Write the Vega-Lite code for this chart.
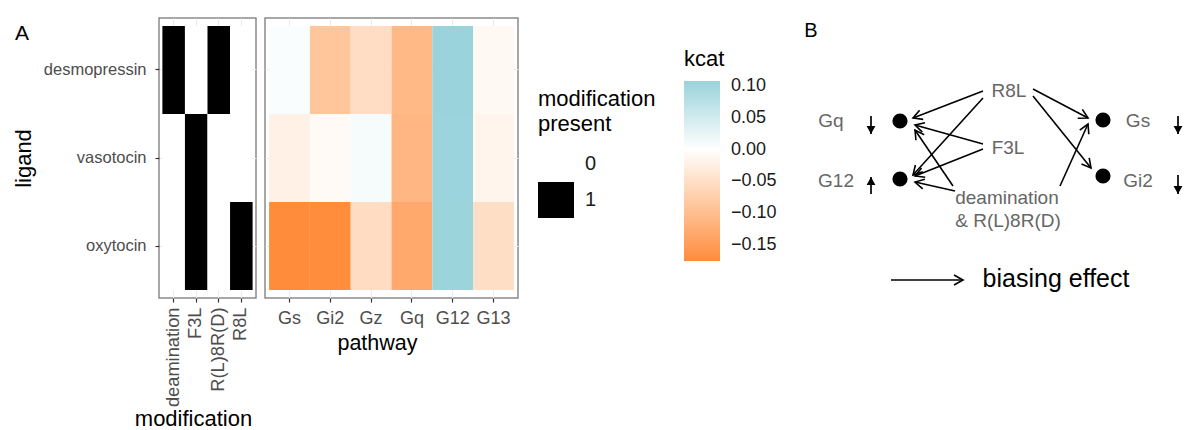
{
  "$schema": "https://vega.github.io/schema/vega-lite/v6.json",
  "background": "white",
  "padding": {"left": 11, "top": 17, "right": 0, "bottom": 0},
  "bounds": "flush",
  "spacing": 9,
  "config": {
    "font": "Liberation Sans",
    "view": {"stroke": "#8A8A8A", "strokeWidth": 1.5},
    "axis": {
      "labelFont": "Liberation Sans",
      "titleFont": "Liberation Sans",
      "labelColor": "#4D4D4D",
      "titleColor": "#000000",
      "titleFontWeight": "normal",
      "tickColor": "#333333",
      "tickSize": 4,
      "tickWidth": 1.2,
      "domain": false,
      "grid": true,
      "gridColor": "#EBEBEB",
      "gridWidth": 1,
      "bandPosition": 0.5,
      "zindex": 0
    },
    "legend": {"titleFont": "Liberation Sans", "labelFont": "Liberation Sans"}
  },
  "datasets": {
    "mods": [
      {"ligand": "desmopressin", "modification": "deamination", "present": 1},
      {"ligand": "desmopressin", "modification": "F3L", "present": 0},
      {"ligand": "desmopressin", "modification": "R(L)8R(D)", "present": 1},
      {"ligand": "desmopressin", "modification": "R8L", "present": 0},
      {"ligand": "vasotocin", "modification": "deamination", "present": 0},
      {"ligand": "vasotocin", "modification": "F3L", "present": 1},
      {"ligand": "vasotocin", "modification": "R(L)8R(D)", "present": 0},
      {"ligand": "vasotocin", "modification": "R8L", "present": 0},
      {"ligand": "oxytocin", "modification": "deamination", "present": 0},
      {"ligand": "oxytocin", "modification": "F3L", "present": 1},
      {"ligand": "oxytocin", "modification": "R(L)8R(D)", "present": 0},
      {"ligand": "oxytocin", "modification": "R8L", "present": 1}
    ],
    "kcat": [
      {"ligand": "desmopressin", "pathway": "Gs", "kcat": 0.006},
      {"ligand": "desmopressin", "pathway": "Gi2", "kcat": -0.088},
      {"ligand": "desmopressin", "pathway": "Gz", "kcat": -0.052},
      {"ligand": "desmopressin", "pathway": "Gq", "kcat": -0.108},
      {"ligand": "desmopressin", "pathway": "G12", "kcat": 0.107},
      {"ligand": "desmopressin", "pathway": "G13", "kcat": -0.01},
      {"ligand": "vasotocin", "pathway": "Gs", "kcat": -0.022},
      {"ligand": "vasotocin", "pathway": "Gi2", "kcat": -0.008},
      {"ligand": "vasotocin", "pathway": "Gz", "kcat": 0.01},
      {"ligand": "vasotocin", "pathway": "Gq", "kcat": -0.112},
      {"ligand": "vasotocin", "pathway": "G12", "kcat": 0.106},
      {"ligand": "vasotocin", "pathway": "G13", "kcat": -0.016},
      {"ligand": "oxytocin", "pathway": "Gs", "kcat": -0.175},
      {"ligand": "oxytocin", "pathway": "Gi2", "kcat": -0.174},
      {"ligand": "oxytocin", "pathway": "Gz", "kcat": -0.054},
      {"ligand": "oxytocin", "pathway": "Gq", "kcat": -0.132},
      {"ligand": "oxytocin", "pathway": "G12", "kcat": 0.105},
      {"ligand": "oxytocin", "pathway": "G13", "kcat": -0.05}
    ],
    "nodes": [
      {"node": "Gq", "x": 37.3, "y": 10.3},
      {"node": "G12", "x": 37.3, "y": 16.1},
      {"node": "Gs", "x": 57.6, "y": 10.2},
      {"node": "Gi2", "x": 57.6, "y": 15.8}
    ],
    "arrows": [
      {"from": "R8L", "to": "Gq", "x1": 45.6, "y1": 7.3, "x2": 38.6, "y2": 10.0},
      {"from": "R8L", "to": "G12", "x1": 45.6, "y1": 8.0, "x2": 38.6, "y2": 15.7},
      {"from": "F3L", "to": "Gq", "x1": 45.6, "y1": 12.6, "x2": 38.8, "y2": 10.7},
      {"from": "F3L", "to": "G12", "x1": 45.6, "y1": 13.1, "x2": 38.8, "y2": 15.8},
      {"from": "deamination", "to": "Gq", "x1": 42.6, "y1": 16.8, "x2": 38.8, "y2": 11.2},
      {"from": "deamination", "to": "G12", "x1": 42.8, "y1": 17.3, "x2": 38.8, "y2": 16.4},
      {"from": "R8L", "to": "Gs", "x1": 50.6, "y1": 7.1, "x2": 56.1, "y2": 10.0},
      {"from": "R8L", "to": "Gi2", "x1": 50.6, "y1": 7.8, "x2": 56.4, "y2": 15.0},
      {"from": "deamination", "to": "Gs", "x1": 53.3, "y1": 16.8, "x2": 56.1, "y2": 10.6},
      {"from": "key", "to": "key", "x1": 36.4, "y1": 26.2, "x2": 43.6, "y2": 26.2}
    ],
    "signs": [
      {"pathway": "Gq", "direction": "down", "x": 34.4, "ytail": 9.8, "yhead": 11.6},
      {"pathway": "G12", "direction": "up", "x": 34.4, "ytail": 17.6, "yhead": 15.9},
      {"pathway": "Gs", "direction": "down", "x": 65.1, "ytail": 9.8, "yhead": 11.6},
      {"pathway": "Gi2", "direction": "down", "x": 65.1, "ytail": 15.7, "yhead": 17.6}
    ],
    "labels": [
      {"kind": "grey", "label": "Gq", "x": 30.4, "y": 10.3},
      {"kind": "grey", "label": "G12", "x": 30.9, "y": 16.3},
      {"kind": "grey", "label": "Gs", "x": 61.1, "y": 10.3},
      {"kind": "grey", "label": "Gi2", "x": 61.1, "y": 16.3},
      {"kind": "grey", "label": "R8L", "x": 48.2, "y": 7.3},
      {"kind": "grey", "label": "F3L", "x": 48.1, "y": 13.0},
      {"kind": "grey", "label": "deamination", "x": 48.0, "y": 18.0},
      {"kind": "grey", "label": "& R(L)8R(D)", "x": 48.1, "y": 20.3},
      {"kind": "panel", "label": "B", "x": 28.4, "y": 1.3},
      {"kind": "key", "label": "biasing effect", "x": 52.9, "y": 26.1}
    ]
  },
  "hconcat": [
    {
      "width": 97,
      "height": 280,
      "title": {"text": "A", "anchor": "start", "frame": "group", "fontSize": 21, "fontWeight": "normal", "color": "#000000", "dx": -144, "dy": 43, "offset": 0, "baseline": "alphabetic"},
      "data": {"name": "mods"},
      "mark": {"type": "rect", "zindex": 1},
      "encoding": {
        "x": {
          "field": "modification", "type": "nominal",
          "sort": ["deamination", "F3L", "R(L)8R(D)", "R8L"],
          "scale": {"paddingOuter": 0.15, "paddingInner": 0},
          "axis": {"title": "modification", "labelAngle": 270, "labelFontSize": 18.3, "labelPadding": 5, "titleFontSize": 22, "titlePadding": 2, "titleX": 34}
        },
        "y": {
          "field": "ligand", "type": "nominal",
          "sort": ["desmopressin", "vasotocin", "oxytocin"],
          "scale": {"paddingOuter": 0.09, "paddingInner": 0},
          "axis": {"title": "ligand", "labelFontSize": 16.5, "labelPadding": 9, "titleFontSize": 22, "titlePadding": 8}
        },
        "fill": {
          "field": "present", "type": "nominal",
          "scale": {"domain": [0, 1], "range": ["#FFFFFF", "#000000"]},
          "legend": {
            "orient": "none", "legendX": 379, "legendY": 71,
            "title": ["modification", "present"], "titleFontSize": 22, "titleLineHeight": 25,
            "titleFontWeight": "normal", "titleColor": "#000000", "titlePadding": 10,
            "symbolType": "square", "symbolSize": 1296, "symbolStrokeWidth": 0,
            "labelFontSize": 20, "labelColor": "#1A1A1A", "labelOffset": 11, "rowPadding": 0
          }
        }
      }
    },
    {
      "width": 253,
      "height": 280,
      "data": {"name": "kcat"},
      "mark": {"type": "rect", "zindex": 1},
      "encoding": {
        "x": {
          "field": "pathway", "type": "nominal",
          "sort": ["Gs", "Gi2", "Gz", "Gq", "G12", "G13"],
          "scale": {"paddingOuter": 0.1, "paddingInner": 0},
          "axis": {"title": "pathway", "labelAngle": 0, "labelFontSize": 18, "labelPadding": 7, "titleFontSize": 21.5, "titlePadding": 5, "titleX": 112}
        },
        "y": {
          "field": "ligand", "type": "nominal",
          "sort": ["desmopressin", "vasotocin", "oxytocin"],
          "scale": {"paddingOuter": 0.09, "paddingInner": 0},
          "axis": {"title": null, "labels": false, "ticks": false, "grid": true}
        },
        "color": {
          "field": "kcat", "type": "quantitative",
          "scale": {"domain": [-0.175, 0, 0.108], "range": ["#FF8C3B", "#FFFFFF", "#99D3DB"], "interpolate": "lab"},
          "legend": {
            "orient": "none", "legendX": 525, "legendY": 31,
            "title": "kcat", "titleFontSize": 22, "titleFontWeight": "normal", "titleColor": "#000000", "titlePadding": 10,
            "gradientLength": 180, "gradientThickness": 36, "gradientStrokeWidth": 0,
            "labelFontSize": 18, "labelColor": "#1A1A1A", "labelOffset": 11, "format": ".2f", "tickCount": 6
          }
        }
      }
    },
    {
      "width": 656,
      "height": 280,
      "view": {"stroke": null},
      "layer": [
        {
          "data": {"name": "arrows"},
          "mark": {"type": "rule", "color": "#000000", "strokeWidth": 1.6},
          "encoding": {
            "x": {"field": "x1", "type": "quantitative", "scale": {"domain": [0, 65.6], "nice": false, "zero": false}, "axis": null},
            "y": {"field": "y1", "type": "quantitative", "scale": {"domain": [0, 28], "nice": false, "zero": false, "reverse": true}, "axis": null},
            "x2": {"field": "x2"},
            "y2": {"field": "y2"}
          }
        },
        {
          "data": {"name": "arrows"},
          "transform": [{"calculate": "atan2(datum.y2 - datum.y1, datum.x2 - datum.x1) * 180 / PI", "as": "heading"}],
          "mark": {"type": "point", "shape": "M-1,-0.55L0,0L-1,0.55", "filled": false, "color": "#000000", "strokeWidth": 1.6, "size": 324, "opacity": 1},
          "encoding": {
            "x": {"field": "x2", "type": "quantitative", "scale": {"domain": [0, 65.6], "nice": false, "zero": false}, "axis": null},
            "y": {"field": "y2", "type": "quantitative", "scale": {"domain": [0, 28], "nice": false, "zero": false, "reverse": true}, "axis": null},
            "angle": {"field": "heading", "type": "quantitative", "scale": null}
          }
        },
        {
          "data": {"name": "signs"},
          "mark": {"type": "rule", "color": "#000000", "strokeWidth": 1.7},
          "encoding": {
            "x": {"field": "x", "type": "quantitative", "scale": {"domain": [0, 65.6], "nice": false, "zero": false}, "axis": null},
            "y": {"field": "ytail", "type": "quantitative", "scale": {"domain": [0, 28], "nice": false, "zero": false, "reverse": true}, "axis": null},
            "y2": {"field": "yhead"}
          }
        },
        {
          "data": {"name": "signs"},
          "transform": [{"calculate": "datum.yhead > datum.ytail ? 90 : -90", "as": "heading"}],
          "mark": {"type": "point", "shape": "M0,0L-1,-0.55L-1,0.55Z", "filled": true, "color": "#000000", "size": 256, "opacity": 1},
          "encoding": {
            "x": {"field": "x", "type": "quantitative", "scale": {"domain": [0, 65.6], "nice": false, "zero": false}, "axis": null},
            "y": {"field": "yhead", "type": "quantitative", "scale": {"domain": [0, 28], "nice": false, "zero": false, "reverse": true}, "axis": null},
            "angle": {"field": "heading", "type": "quantitative", "scale": null}
          }
        },
        {
          "data": {"name": "nodes"},
          "mark": {"type": "point", "shape": "circle", "filled": true, "color": "#000000", "size": 230, "opacity": 1},
          "encoding": {
            "x": {"field": "x", "type": "quantitative", "scale": {"domain": [0, 65.6], "nice": false, "zero": false}, "axis": null},
            "y": {"field": "y", "type": "quantitative", "scale": {"domain": [0, 28], "nice": false, "zero": false, "reverse": true}, "axis": null}
          }
        },
        {
          "data": {"name": "labels"},
          "transform": [{"filter": "datum.kind === 'grey'"}],
          "mark": {"type": "text", "font": "Liberation Sans", "fontSize": 19, "color": "#666666", "align": "center", "baseline": "middle"},
          "encoding": {
            "x": {"field": "x", "type": "quantitative", "scale": {"domain": [0, 65.6], "nice": false, "zero": false}, "axis": null},
            "y": {"field": "y", "type": "quantitative", "scale": {"domain": [0, 28], "nice": false, "zero": false, "reverse": true}, "axis": null},
            "text": {"field": "label"}
          }
        },
        {
          "data": {"name": "labels"},
          "transform": [{"filter": "datum.kind === 'panel'"}],
          "mark": {"type": "text", "font": "Liberation Sans", "fontSize": 20, "color": "#000000", "align": "center", "baseline": "middle"},
          "encoding": {
            "x": {"field": "x", "type": "quantitative", "scale": {"domain": [0, 65.6], "nice": false, "zero": false}, "axis": null},
            "y": {"field": "y", "type": "quantitative", "scale": {"domain": [0, 28], "nice": false, "zero": false, "reverse": true}, "axis": null},
            "text": {"field": "label"}
          }
        },
        {
          "data": {"name": "labels"},
          "transform": [{"filter": "datum.kind === 'key'"}],
          "mark": {"type": "text", "font": "Liberation Sans", "fontSize": 25, "color": "#000000", "align": "center", "baseline": "middle"},
          "encoding": {
            "x": {"field": "x", "type": "quantitative", "scale": {"domain": [0, 65.6], "nice": false, "zero": false}, "axis": null},
            "y": {"field": "y", "type": "quantitative", "scale": {"domain": [0, 28], "nice": false, "zero": false, "reverse": true}, "axis": null},
            "text": {"field": "label"}
          }
        }
      ]
    }
  ]
}
